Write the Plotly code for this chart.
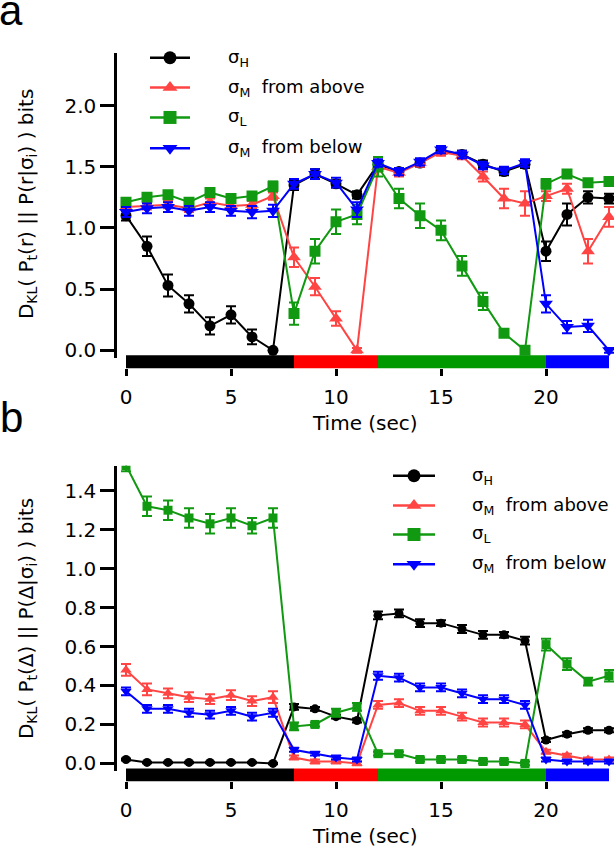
import plotly.graph_objects as go

W, H = 614, 853
FONT = "DejaVu Sans"

t = list(range(24))

# ---------- panel a ----------
a_H = [1.10, 0.85, 0.53, 0.38, 0.20, 0.29, 0.11, 0.00, 1.35, 1.44, 1.36, 1.27,
       1.52, 1.46, 1.53, 1.63, 1.60, 1.52, 1.46, 1.52, 0.81, 1.11, 1.25, 1.24]
a_H_err = [0.04, 0.08, 0.09, 0.07, 0.07, 0.07, 0.06, 0.01, 0.04, 0.04, 0.03, 0.03,
           0.03, 0.03, 0.03, 0.03, 0.03, 0.03, 0.03, 0.03, 0.08, 0.09, 0.05, 0.04]
a_Ma = [1.17, 1.18, 1.19, 1.16, 1.21, 1.18, 1.19, 1.26, 0.76, 0.52, 0.26, 0.00,
        1.50, 1.45, 1.53, 1.62, 1.59, 1.42, 1.24, 1.20, 1.26, 1.32, 0.81, 1.09]
a_Ma_err = [0.03, 0.03, 0.03, 0.03, 0.03, 0.03, 0.03, 0.03, 0.08, 0.07, 0.06, 0.02,
            0.04, 0.03, 0.03, 0.03, 0.03, 0.04, 0.08, 0.10, 0.04, 0.04, 0.10, 0.08]
a_L = [1.21, 1.25, 1.27, 1.21, 1.29, 1.24, 1.26, 1.34, 0.30, 0.81, 1.05, 1.11,
       1.50, 1.24, 1.10, 0.98, 0.69, 0.40, 0.14, 0.00, 1.36, 1.44, 1.37, 1.38]
a_L_err = [0.03, 0.03, 0.03, 0.03, 0.03, 0.03, 0.03, 0.04, 0.09, 0.10, 0.10, 0.08,
           0.08, 0.08, 0.10, 0.08, 0.08, 0.07, 0.02, 0.02, 0.04, 0.03, 0.03, 0.03]
a_Mb = [1.13, 1.16, 1.17, 1.14, 1.17, 1.14, 1.13, 1.14, 1.36, 1.44, 1.37, 1.15,
        1.53, 1.46, 1.54, 1.64, 1.60, 1.51, 1.47, 1.53, 0.38, 0.19, 0.20, 0.00]
a_Mb_err = [0.04, 0.04, 0.04, 0.04, 0.04, 0.04, 0.05, 0.05, 0.04, 0.04, 0.04, 0.06,
            0.03, 0.03, 0.03, 0.03, 0.03, 0.03, 0.03, 0.03, 0.07, 0.05, 0.05, 0.02]

# ---------- panel b ----------
b_H = [0.02, 0.005, 0.005, 0.005, 0.005, 0.005, 0.005, 0.0, 0.29, 0.28, 0.24, 0.22,
       0.76, 0.77, 0.72, 0.72, 0.69, 0.66, 0.66, 0.63, 0.12, 0.15, 0.17, 0.17]
b_H_err = [0.005, 0.004, 0.004, 0.004, 0.004, 0.004, 0.004, 0.004, 0.015, 0.01, 0.01, 0.01,
           0.02, 0.02, 0.02, 0.015, 0.02, 0.02, 0.015, 0.02, 0.01, 0.01, 0.01, 0.01]
b_Ma = [0.48, 0.38, 0.36, 0.34, 0.33, 0.35, 0.32, 0.34, 0.03, 0.01, 0.01, 0.00,
        0.30, 0.31, 0.27, 0.27, 0.24, 0.21, 0.21, 0.20, 0.06, 0.04, 0.02, 0.02]
b_Ma_err = [0.03, 0.03, 0.025, 0.025, 0.025, 0.025, 0.025, 0.03, 0.01, 0.01, 0.01, 0.01,
            0.02, 0.02, 0.02, 0.02, 0.02, 0.02, 0.02, 0.02, 0.01, 0.01, 0.01, 0.01]
b_L = [1.53, 1.32, 1.30, 1.26, 1.23, 1.26, 1.22, 1.26, 0.19, 0.20, 0.26, 0.29,
       0.05, 0.05, 0.02, 0.02, 0.02, 0.01, 0.01, 0.00, 0.61, 0.51, 0.42, 0.45]
b_L_err = [0.03, 0.05, 0.05, 0.05, 0.05, 0.05, 0.04, 0.05, 0.02, 0.01, 0.02, 0.02,
           0.01, 0.01, 0.01, 0.01, 0.01, 0.01, 0.01, 0.01, 0.03, 0.03, 0.02, 0.03]
b_Mb = [0.37, 0.28, 0.28, 0.26, 0.25, 0.27, 0.24, 0.26, 0.07, 0.05, 0.03, 0.02,
        0.45, 0.44, 0.39, 0.39, 0.36, 0.33, 0.33, 0.30, 0.02, 0.01, 0.01, 0.01]
b_Mb_err = [0.02, 0.02, 0.02, 0.02, 0.02, 0.02, 0.02, 0.02, 0.01, 0.01, 0.01, 0.01,
            0.02, 0.02, 0.02, 0.02, 0.02, 0.02, 0.02, 0.02, 0.01, 0.01, 0.01, 0.01]

# stimulus bar segments
stim_edges = [0, 8, 12, 20, 23]
stim_colors = ["#000000", "#FF0000", "#009900", "#0000FF"]

# series styling
names = ["σ<sub>H</sub>", "σ<sub>M</sub>  from above", "σ<sub>L</sub>", "σ<sub>M</sub>  from below"]
colors = ["#000000", "#FF4444", "#119911", "#0000FF"]
symbols = ["circle", "triangle-up", "square", "triangle-down"]
msizes = [11, 12, 11, 12]

x_ticks = [0, 5, 10, 15, 20]


def py(px):
    return 1 - px / H


def pxx(px):
    return px / W


fig = go.Figure()

panels = [
    dict(xa="x", ya="y", series=[(a_H, a_H_err), (a_Ma, a_Ma_err), (a_L, a_L_err), (a_Mb, a_Mb_err)]),
    dict(xa="x2", ya="y2", series=[(b_H, b_H_err), (b_Ma, b_Ma_err), (b_L, b_L_err), (b_Mb, b_Mb_err)]),
]

for pi, p in enumerate(panels):
    for i, (vals, errs) in enumerate(p["series"]):
        ms = msizes[i] if pi == 0 else msizes[i] - 2
        fig.add_trace(go.Scatter(
            x=t, y=vals, mode="lines+markers",
            xaxis=p["xa"], yaxis=p["ya"],
            line=dict(color=colors[i], width=2),
            marker=dict(color=colors[i], symbol=symbols[i], size=ms, line=dict(width=0)),
            error_y=dict(type="data", array=errs, color=colors[i], thickness=2, width=5),
            showlegend=False,
        ))

# manual legends on a full-figure pixel axis (x3/y3)
legends = [
    dict(x0=150, x1=190, xt=226, ys=[58, 88, 118, 149]),
    dict(x0=393, x1=435, xt=470, ys=[478, 508, 537, 567]),
]
for lg in legends:
    for i in range(4):
        y = lg["ys"][i]
        fig.add_trace(go.Scatter(
            x=[lg["x0"], lg["x1"]], y=[y, y], mode="lines",
            xaxis="x3", yaxis="y3", line=dict(color=colors[i], width=2.5),
            showlegend=False, hoverinfo="skip"))
        fig.add_trace(go.Scatter(
            x=[(lg["x0"] + lg["x1"]) / 2], y=[y], mode="markers",
            xaxis="x3", yaxis="y3",
            marker=dict(color=colors[i], symbol=symbols[i], size=13, line=dict(width=0)),
            showlegend=False, hoverinfo="skip"))
        fig.add_annotation(x=pxx(lg["xt"]), y=py(y), xref="paper", yref="paper", text=names[i],
                           showarrow=False, xanchor="left", yanchor="middle",
                           font=dict(family=FONT, size=18, color="black"))

# stimulus bars
bars = [("x", 357, 370), ("x2", 772, 785)]
for xr_, top, bot in bars:
    for k in range(len(stim_colors)):
        fig.add_shape(type="rect", xref=xr_, yref="paper",
                      x0=stim_edges[k], x1=stim_edges[k + 1], y0=py(bot), y1=py(top),
                      fillcolor=stim_colors[k], line=dict(width=0), layer="below")

axis_common = dict(showgrid=False, zeroline=False, color="black",
                   tickfont=dict(family=FONT, size=20, color="black"))

xdom = [117 / W, 1.0]
xr = [-9 / 21, 488 / 21]

fig.update_layout(
    width=W, height=H, margin=dict(l=0, r=0, t=0, b=0),
    paper_bgcolor="white", plot_bgcolor="rgba(0,0,0,0)",
    font=dict(family=FONT, size=20, color="black"),
    xaxis=dict(domain=xdom, range=xr, anchor="free", position=py(370),
               tickvals=x_ticks, ticks="outside", ticklen=7, tickwidth=2.5,
               ticklabelstandoff=4, showline=False, **axis_common),
    yaxis=dict(domain=[py(360), py(53)], range=[-8 / 123, 299 / 123], anchor="x",
               tickvals=[0, 0.5, 1.0, 1.5, 2.0], ticktext=["0.0", "0.5", "1.0", "1.5", "2.0"],
               ticks="outside", ticklen=14, tickwidth=2.5,
               showline=True, linewidth=2.5, linecolor="black", **axis_common),
    xaxis2=dict(domain=xdom, range=xr, anchor="free", position=py(785),
                tickvals=x_ticks, ticks="outside", ticklen=7, tickwidth=2.5,
                ticklabelstandoff=4, showline=False, **axis_common),
    yaxis2=dict(domain=[py(775), py(468)], range=[-8 / 195.7, 299 / 195.7], anchor="x2",
                tickvals=[0, 0.2, 0.4, 0.6, 0.8, 1.0, 1.2, 1.4],
                ticktext=["0.0", "0.2", "0.4", "0.6", "0.8", "1.0", "1.2", "1.4"],
                ticks="outside", ticklen=14, tickwidth=2.5,
                showline=True, linewidth=2.5, linecolor="black", **axis_common),
    xaxis3=dict(domain=[0, 1], range=[0, W], visible=False, anchor="y3"),
    yaxis3=dict(domain=[0, 1], range=[H, 0], visible=False, anchor="x3"),
)

# axis titles
fig.add_annotation(x=pxx(365), y=py(425), xref="paper", yref="paper", text="Time (sec)", showarrow=False,
                   font=dict(family=FONT, size=20), xanchor="center", yanchor="middle")
fig.add_annotation(x=pxx(365), y=py(840), xref="paper", yref="paper", text="Time (sec)", showarrow=False,
                   font=dict(family=FONT, size=20), xanchor="center", yanchor="middle")
fig.add_annotation(x=pxx(27), y=py(205), xref="paper", yref="paper", textangle=-90, showarrow=False,
                   text="D<sub>KL</sub>( P<sub>t</sub>(r) || P(r|σ<sub>i</sub>) ) bits",
                   font=dict(family=FONT, size=20), xanchor="center", yanchor="middle")
fig.add_annotation(x=pxx(27), y=py(622), xref="paper", yref="paper", textangle=-90, showarrow=False,
                   text="D<sub>KL</sub>( P<sub>t</sub>(Δ) || P(Δ|σ<sub>i</sub>) ) bits",
                   font=dict(family=FONT, size=20), xanchor="center", yanchor="middle")

# panel labels
fig.add_annotation(x=pxx(-3), y=py(11), xref="paper", yref="paper", text="a", showarrow=False,
                   font=dict(family="Liberation Sans", size=42), xanchor="left", yanchor="middle")
fig.add_annotation(x=pxx(-2), y=py(419), xref="paper", yref="paper", text="b", showarrow=False,
                   font=dict(family="Liberation Sans", size=42), xanchor="left", yanchor="middle")

fig.write_html("out.html", config={"displayModeBar": False},
               post_script="document.body.style.margin='0';document.body.style.overflow='hidden';")
